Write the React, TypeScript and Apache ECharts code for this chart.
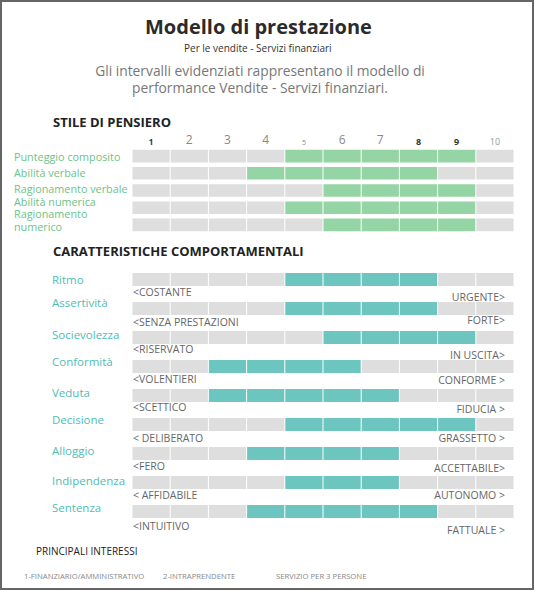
import React, { useEffect, useRef } from "react";
import * as echarts from "echarts";

// ---------- data ----------
const scaleTicks = ["1", "2", "3", "4", "5", "6", "7", "8", "9", "10"];

const thinkingLabels = [
  "Punteggio composito",
  "Abilità verbale",
  "Ragionamento verbale",
  "Abilità numerica",
  "Ragionamento numerico",
];
const thinkingStart = [4, 3, 5, 4, 5];
const thinkingEnd = [9, 8, 9, 9, 9];

const behaviorLabels = [
  "Ritmo",
  "Assertività",
  "Socievolezza",
  "Conformità",
  "Veduta",
  "Decisione",
  "Alloggio",
  "Indipendenza",
  "Sentenza",
];
const behaviorStart = [4, 4, 5, 2, 2, 4, 3, 4, 3];
const behaviorEnd = [8, 8, 9, 6, 7, 9, 7, 7, 8];
const behaviorLow = [
  "<COSTANTE",
  "<SENZA PRESTAZIONI",
  "<RISERVATO",
  "<VOLENTIERI",
  "<SCETTICO",
  "< DELIBERATO",
  "<FERO",
  "< AFFIDABILE",
  "<INTUITIVO",
];
const behaviorHigh = [
  "URGENTE>",
  "FORTE>",
  "IN USCITA>",
  "CONFORME >",
  "FIDUCIA >",
  "GRASSETTO >",
  "ACCETTABILE>",
  "AUTONOMO >",
  "FATTUALE >",
];

const interests = [
  "1-FINANZIARIO/AMMINISTRATIVO",
  "2-INTRAPRENDENTE",
  "SERVIZIO PER 3 PERSONE",
];

const descriptionLines = [
  "Gli intervalli evidenziati rappresentano il modello di",
  "performance Vendite - Servizi finanziari.",
];

// ---------- layout ----------
const W = 535;
const H = 591;
const FONT = "'Open Sans', 'Noto Sans', sans-serif";
const GREEN = "#95d4a4";
const TEAL = "#6cc6bf";
const GRAY = "#dedede";
const G0_TOP = 147.5;
const G0_H = 86;
const BAND0 = G0_H / thinkingLabels.length;
const G1_TOP = 265;
const G1_H = 261;
const BAND1 = G1_H / behaviorLabels.length;
const thinkLabelShift = [0, -1, -2.5, -6.5, -5];
const behavLabelShift = [0, 12, 7, 11, 7, 11, 7, 5, 9];
const lowShift = [12.5, 13.5, 11.5, 12.5, 11.5, 13.5, 12.5, 12.5, 14.5];
const highShift = [17.5, 11.5, 17.5, 13.5, 13.5, 13.5, 14.5, 12.5, 18.5];

function cells(start: number[], end: number[]) {
  const out: number[][] = [];
  start.forEach((s, r) => {
    for (let c = 0; c < scaleTicks.length; c++) {
      out.push([c, r, c >= s && c < end[r] ? 1 : 0]);
    }
  });
  return out;
}

function makeRender(color: string, ratio: number) {
  return (params: any, api: any) => {
    const col = api.value(0);
    const row = api.value(1);
    const on = api.value(2);
    const p0 = api.coord([col, row]);
    const p1 = api.coord([col + 1, row]);
    const bh = api.size([0, 1])[1] * ratio;
    return {
      type: "rect",
      shape: { x: p0[0] + 0.5, y: p0[1] - bh / 2, width: p1[0] - p0[0] - 1, height: bh },
      style: { fill: on ? color : GRAY },
    };
  };
}

const tickRich: Record<string, any> = {
  t1: { fontSize: 8, fontWeight: "bold", color: "#333" },
  t2: { fontSize: 12, color: "#888" },
  t3: { fontSize: 12, color: "#888" },
  t4: { fontSize: 12, color: "#888" },
  t5: { fontSize: 7, color: "#888" },
  t6: { fontSize: 12, color: "#888" },
  t7: { fontSize: 12, color: "#888" },
  t8: { fontSize: 9, fontWeight: "bold", color: "#333" },
  t9: { fontSize: 9, fontWeight: "bold", color: "#333" },
  t10: { fontSize: 9, color: "#999" },
};

export default function App() {
  const ref = useRef<HTMLDivElement>(null);
  useEffect(() => {
    document.body.style.margin = "0";
    const chart = echarts.init(ref.current!, null, { renderer: "svg" });

    const behavRich: Record<string, any> = {};
    behaviorLabels.forEach((_, i) => {
      behavRich["s" + i] = {
        color: "#4fbdb4",
        fontSize: 11.5,
        fontFamily: FONT,
        padding: [0, 0, behavLabelShift[i], 0],
      };
    });

    const graphics: any[] = [
      {
        type: "rect",
        shape: { x: 1, y: 1, width: W - 3, height: H - 3 },
        style: { fill: "none", stroke: "#666", lineWidth: 2 },
        silent: true,
      },
    ];
    descriptionLines.forEach((t, i) => {
      graphics.push({
        type: "text",
        x: 260,
        y: 70 + i * 17,
        style: {
          text: t,
          fill: "#777",
          font: `13.8px ${FONT}`,
          textAlign: "center",
          textVerticalAlign: "middle",
        },
      });
    });
    thinkingLabels.forEach((name, i) => {
      const cy = G0_TOP + (i + 0.5) * BAND0;
      graphics.push({
        type: "text",
        x: 14,
        y: cy + thinkLabelShift[i],
        style: {
          text: name === "Ragionamento numerico" ? "Ragionamento\nnumerico" : name,
          fill: "#6dc286",
          font: `10.8px ${FONT}`,
          lineHeight: 13,
          textVerticalAlign: "middle",
        },
      });
    });
    behaviorLabels.forEach((name, i) => {
      const cy = G1_TOP + (i + 0.5) * BAND1;
      graphics.push({
        type: "text",
        x: 133,
        y: cy + lowShift[i],
        style: {
          text: behaviorLow[i],
          fill: "#666",
          font: `10.5px ${FONT}`,
          textVerticalAlign: "middle",
        },
      });
      graphics.push({
        type: "text",
        x: 505,
        y: cy + highShift[i],
        style: {
          text: behaviorHigh[i],
          fill: "#666",
          font: `10.5px ${FONT}`,
          textAlign: "right",
          textVerticalAlign: "middle",
        },
      });
    });
    interests.forEach((t, i) => {
      graphics.push({
        type: "text",
        x: [24, 163, 276][i],
        y: 576,
        style: { text: t, fill: "#888", font: `7.7px ${FONT}`, textVerticalAlign: "middle" },
      });
    });

    chart.setOption({
      animation: false,
      backgroundColor: "#fff",
      textStyle: { fontFamily: FONT },
      title: [
        {
          text: "Modello di prestazione",
          left: 145,
          top: 15,
          padding: 0,
          textStyle: {
            fontSize: 20,
            lineHeight: 22,
            fontWeight: "bold",
            color: "#2b2b2b",
            fontFamily: FONT,
          },
        },
        {
          text: "Per le vendite - Servizi finanziari",
          left: 184,
          top: 42,
          padding: 0,
          textStyle: {
            fontSize: 10,
            lineHeight: 11,
            fontWeight: "normal",
            color: "#333",
            fontFamily: FONT,
          },
        },
        {
          text: "STILE DI PENSIERO",
          left: 53,
          top: 115,
          padding: 0,
          textStyle: { fontSize: 13, fontWeight: "bold", color: "#222", fontFamily: FONT },
        },
        {
          text: "CARATTERISTICHE COMPORTAMENTALI",
          left: 53,
          top: 244,
          padding: 0,
          textStyle: { fontSize: 13, fontWeight: "bold", color: "#222", fontFamily: FONT },
        },
        {
          text: "PRINCIPALI INTERESSI",
          left: 36,
          top: 546,
          padding: 0,
          textStyle: { fontSize: 10, fontWeight: "normal", color: "#222", fontFamily: FONT },
        },
      ],
      grid: [
        { left: 132, right: 21, top: G0_TOP, height: G0_H },
        { left: 132, right: 21, top: G1_TOP, height: G1_H },
      ],
      xAxis: [
        { type: "value", gridIndex: 0, min: 0, max: 10, interval: 1, show: false },
        {
          type: "category",
          gridIndex: 0,
          position: "top",
          data: scaleTicks,
          axisLine: { show: false },
          axisTick: { show: false },
          splitLine: { show: false },
          axisLabel: {
            interval: 0,
            margin: 2,
            fontFamily: FONT,
            formatter: (v: string) => `{t${v}|${v}}`,
            rich: tickRich,
          },
        },
        { type: "value", gridIndex: 1, min: 0, max: 10, interval: 1, show: false },
      ],
      yAxis: [
        {
          type: "category",
          gridIndex: 0,
          inverse: true,
          data: thinkingLabels,
          axisLine: { show: false },
          axisTick: { show: false },
          splitLine: { show: false },
          axisLabel: { show: false },
        },
        {
          type: "category",
          gridIndex: 1,
          inverse: true,
          data: behaviorLabels,
          axisLine: { show: false },
          axisTick: { show: false },
          splitLine: { show: false },
          axisLabel: {
            interval: 0,
            align: "left",
            margin: 80,
            formatter: (v: string, i: number) => `{s${i}|${v}}`,
            rich: behavRich,
          },
        },
      ],
      series: [
        {
          type: "custom",
          xAxisIndex: 0,
          yAxisIndex: 0,
          renderItem: makeRender(GREEN, 0.73),
          encode: { x: 0, y: 1 },
          data: cells(thinkingStart, thinkingEnd),
        },
        {
          type: "custom",
          xAxisIndex: 2,
          yAxisIndex: 1,
          renderItem: makeRender(TEAL, 0.45),
          encode: { x: 0, y: 1 },
          data: cells(behaviorStart, behaviorEnd),
        },
      ],
      graphic: graphics,
    });
    return () => chart.dispose();
  }, []);
  return <div ref={ref} style={{ width: W, height: H }} />;
}
